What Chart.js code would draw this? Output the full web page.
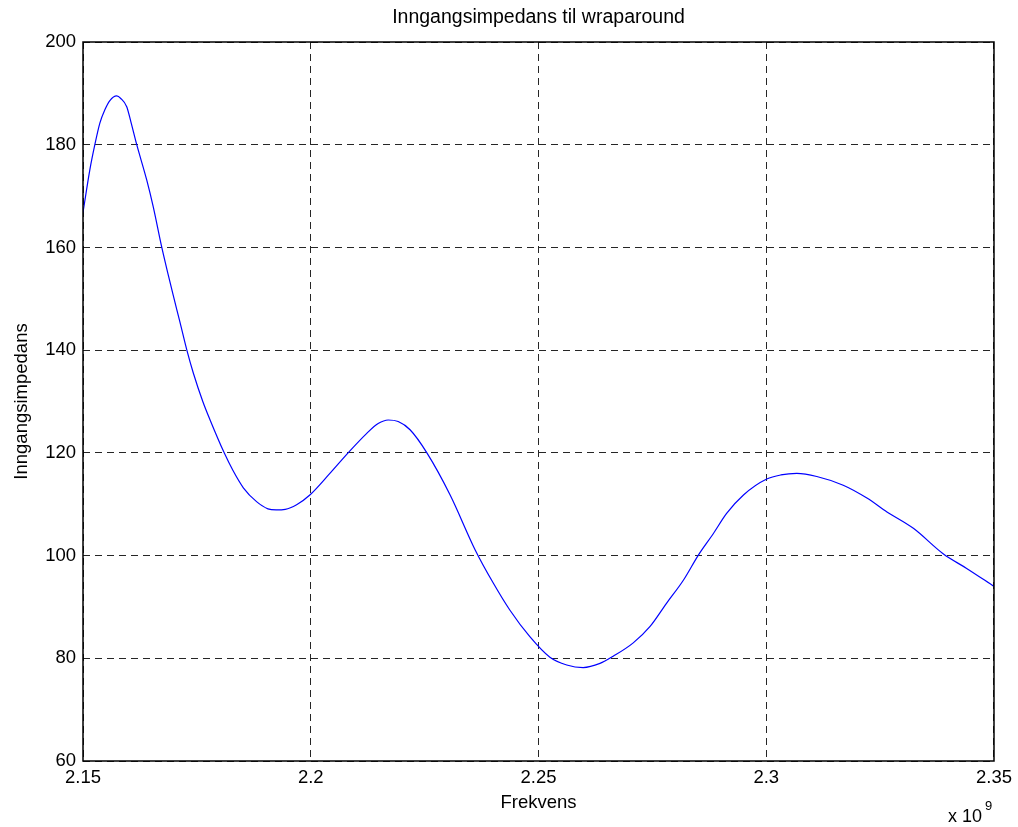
<!DOCTYPE html>
<html>
<head>
<meta charset="utf-8">
<script src="https://cdn.jsdelivr.net/npm/chart.js@4"></script>
<style>
  html, body { margin: 0; padding: 0; background: #fff; }
  #wrap { width: 1018px; height: 827px; }
</style>
</head>
<body>
<div id="wrap"><canvas id="impChart"></canvas></div>
<script>
// frequency in units of 1e9 Hz
const freq = [
    2.1500, 2.1515, 2.1526, 2.1537, 2.1548, 2.1559, 2.1574, 2.1583, 2.1596, 2.1605,
    2.1618, 2.1640, 2.1654, 2.1673, 2.1687, 2.1698, 2.1713, 2.1728, 2.1742, 2.1763,
    2.1779, 2.1810, 2.1829, 2.1852, 2.1881, 2.1906, 2.1924, 2.1944, 2.1969, 2.1998,
    2.2042, 2.2082, 2.2123, 2.2148, 2.2170, 2.2192, 2.2218, 2.2255, 2.2306, 2.2361,
    2.2401, 2.2437, 2.2481, 2.2525, 2.2562, 2.2598, 2.2635, 2.2664, 2.2708, 2.2745,
    2.2781, 2.2818, 2.2851, 2.2884, 2.2913, 2.2950, 2.3001, 2.3032, 2.3067, 2.3111,
    2.3169, 2.3221, 2.3265, 2.3323, 2.3389, 2.3440, 2.3500
];
const impedance = [
    166.8, 175.1, 180.0, 184.2, 186.8, 188.6, 189.5, 189.0, 187.4, 184.5,
    180.0, 173.1, 168.0, 160.0, 154.7, 150.7, 145.4, 140.0, 135.6, 130.0,
    126.4, 120.0, 116.6, 113.2, 110.5, 109.1, 108.9, 109.0, 109.9, 111.8,
    116.0, 120.0, 123.8, 125.7, 126.4, 126.1, 124.5, 120.0, 111.8, 101.1,
    94.6, 89.4, 84.2, 80.2, 78.7, 78.2, 79.0, 80.4, 83.0, 86.2,
    90.7, 95.2, 100.1, 104.3, 108.2, 111.8, 114.9, 115.7, 116.0, 115.4,
    113.7, 111.2, 108.5, 105.3, 100.3, 97.5, 94.0
];
const xTicks = [2.15, 2.2, 2.25, 2.3, 2.35];
const yTicks = [60, 80, 100, 120, 140, 160, 180, 200];
const chartTitle = 'Inngangsimpedans til wraparound';

const fontFamily = "'Liberation Sans', Arial, Helvetica, sans-serif";

// title centred over the plot, full box round it, and the "x 10^9" exponent label
const boxPlugin = {
    id: 'boxPlugin',
    afterDraw(chart) {
        const ctx = chart.ctx;
        const a = chart.chartArea;
        ctx.save();
        ctx.strokeStyle = '#000';
        ctx.lineWidth = 1.5;
        ctx.strokeRect(a.left, a.top, a.right - a.left, a.bottom - a.top);
        ctx.fillStyle = '#000';
        ctx.textBaseline = 'middle';
        ctx.textAlign = 'center';
        ctx.font = '19.5px ' + fontFamily;
        ctx.fillText(chartTitle, (a.left + a.right) / 2, 18);
        ctx.textBaseline = 'alphabetic';
        ctx.textAlign = 'left';
        ctx.font = '18px ' + fontFamily;
        ctx.fillText('x 10', a.right - 46, 822);
        ctx.font = '13px ' + fontFamily;
        ctx.fillText('9', a.right - 9, 810);
        ctx.restore();
    }
};

new Chart(document.getElementById('impChart'), {
    type: 'line',
    data: {
        datasets: [{
            data: freq.map((f, i) => ({ x: f, y: impedance[i] })),
            borderColor: '#0000ff',
            borderWidth: 1.2,
            pointRadius: 0,
            fill: false,
            cubicInterpolationMode: 'monotone'
        }]
    },
    options: {
        responsive: true,
        maintainAspectRatio: false,
        animation: false,
        layout: {
            padding: { top: 42, right: 24, bottom: 0, left: 0 }
        },
        plugins: {
            legend: { display: false },
            tooltip: { enabled: false },
            title: { display: false }
        },
        scales: {
            x: {
                type: 'linear',
                min: 2.15,
                max: 2.35,
                afterBuildTicks(scale) {
                    scale.ticks = xTicks.map(v => ({ value: v }));
                },
                afterFit(scale) {
                    scale.height = 66;
                },
                ticks: {
                    color: '#000',
                    padding: 6,
                    maxRotation: 0,
                    font: { family: fontFamily, size: 18.5 },
                    callback: v => String(parseFloat(v.toFixed(2)))
                },
                grid: {
                    color: 'rgba(0,0,0,0.85)',
                    lineWidth: 1,
                    drawTicks: false
                },
                border: { display: false, dash: [7, 5] },
                title: {
                    display: true,
                    text: 'Frekvens',
                    color: '#000',
                    font: { family: fontFamily, size: 18.5 },
                    padding: { top: 0, bottom: 13 }
                }
            },
            y: {
                min: 60,
                max: 200,
                afterBuildTicks(scale) {
                    scale.ticks = yTicks.map(v => ({ value: v }));
                },
                afterFit(scale) {
                    scale.width = 83;
                },
                ticks: {
                    color: '#000',
                    padding: 7,
                    font: { family: fontFamily, size: 18.5 }
                },
                grid: {
                    color: 'rgba(0,0,0,0.85)',
                    lineWidth: 1,
                    drawTicks: false
                },
                border: { display: false, dash: [7, 5] },
                title: {
                    display: true,
                    text: 'Inngangsimpedans',
                    color: '#000',
                    font: { family: fontFamily, size: 18.5 },
                    padding: { top: 11, bottom: 0 }
                }
            }
        }
    },
    plugins: [boxPlugin]
});
</script>
</body>
</html>
